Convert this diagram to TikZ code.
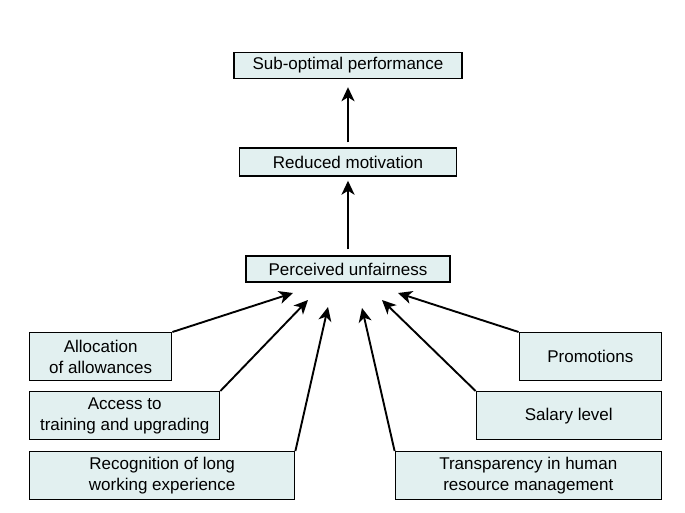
\documentclass[tikz,border=0pt]{standalone}
\usepackage{fontspec}
\setmainfont{Liberation Sans}
\usetikzlibrary{positioning, arrows.meta}
\definecolor{boxfill}{RGB}{226,240,240}
\tikzset{
    box/.style={draw, line width=1.4pt, fill=boxfill, align=center, inner sep=0pt,
        font=\fontsize{17}{20.5}\selectfont}, % every box
    factor/.style={box, minimum height=48pt}, % the causes at the bottom
    link/.style={-{Stealth[length=14pt, width=13pt, inset=4pt]}, line width=1.9pt},
}

\begin{document}
\begin{tikzpicture}[x=1pt, y=-1pt, on grid]
        \useasboundingbox (0,0) rectangle (685,513);

        % Chain
        \node[box, minimum width=228pt, minimum height=26pt] (perf) at (348,65.5) {Sub-optimal performance};
        \node[box, minimum width=217pt, minimum height=28pt] (motiv) [below=96.5pt of perf] {Reduced motivation};
        \node[box, minimum width=204pt, minimum height=26pt] (unfair) [below=107pt of motiv] {Perceived unfairness};

        % Causes
        \node[factor, anchor=north west, minimum width=142pt] (alloc) at (29,332) {Allocation\\of allowances};
        \node[factor, anchor=north west, minimum width=190pt] (access) at (29,391) {Access to\\training and upgrading};
        \node[factor, anchor=north west, minimum width=265pt] (recog) at (29,451) {Recognition of long\\working experience};
        \node[factor, anchor=north east, minimum width=142pt] (promo) at (662,332) {Promotions};
        \node[factor, anchor=north east, minimum width=185pt] (salary) at (662,391) {Salary level};
        \node[factor, anchor=north east, minimum width=266pt] (transp) at (662,451) {Transparency in human\\resource management};

        % Arrow ends below the box
        \coordinate (inA) at (293,293);
        \coordinate (inB) at (308,300);
        \coordinate (inC) at (328,307);
        \coordinate (inD) at (398,293);
        \coordinate (inE) at (382,300);
        \coordinate (inF) at (362,308);

        % Arrows
        \draw[link, line width=2.4pt, shorten <=5pt, shorten >=8pt] (motiv) -- (perf);
        \draw[link, line width=2.4pt, shorten <=6pt, shorten >=4pt] (unfair) -- (motiv);
        \draw[link] (alloc.north east) -- (inA);
        \draw[link] (access.north east) -- (inB);
        \draw[link] (recog.north east) -- (inC);
        \draw[link] (promo.north west) -- (inD);
        \draw[link] (salary.north west) -- (inE);
        \draw[link] (transp.north west) -- (inF);
\end{tikzpicture}
\end{document}
